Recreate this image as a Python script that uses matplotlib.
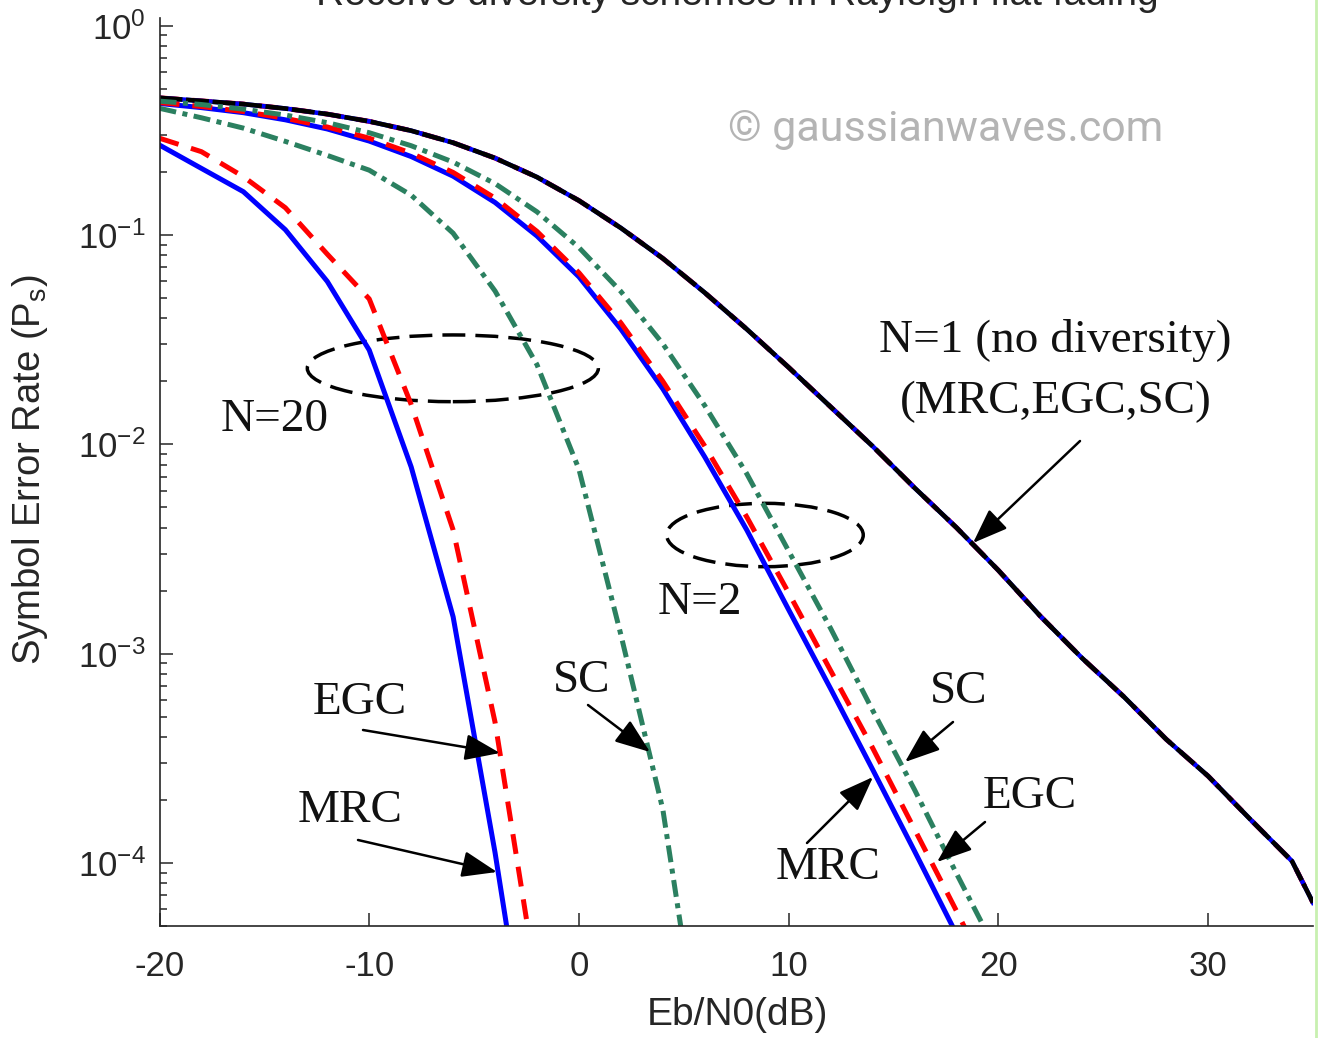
import matplotlib
matplotlib.use('Agg')
import matplotlib.pyplot as plt
from matplotlib.patches import Ellipse
from matplotlib.lines import Line2D
from matplotlib.ticker import LogLocator, NullLocator

# Eb/N0 grid (dB) and symbol error rates
snr_n1 = [-20, -18, -16, -14, -12, -10, -8, -6, -4, -2, 0, 2, 4, 6, 8, 10, 12, 14,
          16, 18, 20, 22, 24, 26, 28, 30, 32, 34, 35]
ser_n1 = [0.452, 0.437, 0.422, 0.402, 0.378, 0.349, 0.315, 0.276, 0.233, 0.189,
          0.146, 0.108, 0.0773, 0.053, 0.0355, 0.0233, 0.0151, 0.0098, 0.0062,
          0.0040, 0.0025, 0.00151, 0.00095, 0.00062, 0.00039, 0.00026, 0.000162,
          0.000102, 0.0000646]

snr_n2 = [-20, -18, -16, -14, -12, -10, -8, -6, -4, -2, 0, 2, 4, 6, 8, 10, 12, 14,
          16, 18, 20]
mrc_n2 = [0.425, 0.406, 0.384, 0.355, 0.321, 0.281, 0.237, 0.191, 0.143, 0.0989,
          0.0631, 0.0355, 0.0184, 0.0087, 0.0039, 0.00162, 0.00068, 0.00028,
          0.000114, 0.0000457, 0.0000186]
egc_n2 = [0.429, 0.411, 0.389, 0.361, 0.328, 0.290, 0.246, 0.199, 0.150, 0.104,
          0.0660, 0.0380, 0.0200, 0.0098, 0.0045, 0.00195, 0.00083, 0.000355,
          0.000145, 0.000059, 0.0000234]
sc_n2 = [0.436, 0.420, 0.399, 0.374, 0.344, 0.308, 0.267, 0.223, 0.176, 0.129,
         0.0871, 0.0537, 0.0302, 0.0153, 0.00724, 0.00309, 0.00132, 0.000537,
         0.000224, 0.0000891, 0.0000363]

snr_n20 = [-20, -18, -16, -14, -12, -10, -8, -6, -4, -2]
mrc_n20 = [0.269, 0.208, 0.161, 0.106, 0.060, 0.0282, 0.0078, 0.0015, 0.000112,
           0.000006]
egc_n20 = [0.29, 0.25, 0.19, 0.135, 0.081, 0.0495, 0.0155, 0.0039, 0.00047,
           0.000026]
snr_n20_sc = [-20, -18, -16, -14, -12, -10, -8, -6, -4, -2, 0, 2, 4, 6]
sc_n20 = [0.403, 0.363, 0.324, 0.28, 0.24, 0.204, 0.155, 0.102, 0.054, 0.024,
          0.0076, 0.00123, 0.00018, 0.0000089]

plt.rcParams['font.family'] = ['Liberation Sans', 'DejaVu Sans']
plt.rcParams['mathtext.fontset'] = 'custom'
plt.rcParams['mathtext.rm'] = 'Liberation Sans'
plt.rcParams['mathtext.it'] = 'Liberation Sans:italic'
plt.rcParams['mathtext.default'] = 'regular'
plt.rcParams['axes.unicode_minus'] = False

W, H = 1318, 1038


def fp(x, y):
    # pixel position (from top left) -> figure fraction
    return (x / W, 1 - y / H)


fig = plt.figure(figsize=(W / 100, H / 100), dpi=100)
ax = fig.add_axes([159.5 / W, 112 / H, 1153.5 / W, 908 / H])

blue = '#0000ff'
red = '#ff0000'
green = '#2b8060'
lw = 3.6
dash = (0, (4, 2.6))
dashdot = (0, (3.4, 1.3, 1.0, 1.3))

# N = 1 : all three schemes coincide
ax.plot(snr_n1, ser_n1, color=red, lw=lw, ls=dash)
ax.plot(snr_n1, ser_n1, color=blue, lw=3.3)
ax.plot(snr_n1, ser_n1, color='black', lw=3.3, ls=(0, (5, 0.8)))
# N = 2
ax.plot(snr_n2, mrc_n2, color=blue, lw=lw)
ax.plot(snr_n2, egc_n2, color=red, lw=lw, ls=dash)
ax.plot(snr_n2, sc_n2, color=green, lw=lw, ls=dashdot)
# N = 20
ax.plot(snr_n20, mrc_n20, color=blue, lw=lw)
ax.plot(snr_n20, egc_n20, color=red, lw=lw, ls=dash)
ax.plot(snr_n20_sc, sc_n20, color=green, lw=lw, ls=dashdot)

ax.set_yscale('log')
ax.set_xlim(-20, 35)
ax.set_ylim(5e-5, 1.088)
ax.set_xticks([-20, -10, 0, 10, 20, 30])
ax.yaxis.set_major_locator(LogLocator(base=10, numticks=10))
ax.yaxis.set_minor_locator(LogLocator(base=10, subs=range(2, 10), numticks=10))
ax.xaxis.set_minor_locator(NullLocator())

for s in ['top', 'right']:
    ax.spines[s].set_visible(False)
for s in ['left', 'bottom']:
    ax.spines[s].set_color('#262626')
    ax.spines[s].set_linewidth(1.2)
ax.tick_params(which='both', direction='in', color='#262626', width=1.1)
ax.tick_params(which='major', length=9.4, labelsize=25, labelcolor='#262626')
ax.tick_params(which='minor', length=5)
ax.tick_params(axis='x', pad=17)
ax.tick_params(axis='y', pad=10)

fig.text(*fp(737, 1015), 'Eb/N0(dB)', ha='center', va='center',
         fontsize=28, color='#262626')
fig.text(*fp(30, 470), 'Symbol Error Rate (P$_s$)', rotation=90,
         ha='center', va='center', fontsize=27.5, color='#262626')
# title sits mostly above the cropped top edge, as in the source screenshot
fig.text(737 / W, 1 - 5 / H, 'Receive diversity schemes in Rayleigh flat fading',
         ha='center', va='baseline', fontsize=28, color='#262626')

# watermark
fig.text(*fp(946, 130), '\u00a9 gaussianwaves.com', color='#b4b4b4', fontsize=31,
         family=['Roboto', 'DejaVu Sans'], ha='center', va='center')

# dashed ellipses grouping N=20 and N=2 curves
ax.add_patch(Ellipse((0.2543, 0.6142), 0.2523, 0.0735, transform=ax.transAxes,
                     fill=False, ec='black', lw=2.5, ls=(0, (6.6, 2.9))))
ax.add_patch(Ellipse((0.5249, 0.4306), 0.1704, 0.0698, transform=ax.transAxes,
                     fill=False, ec='black', lw=2.5, ls=(0, (6.6, 2.9))))

serif = ['Liberation Serif', 'DejaVu Serif']
labels = [
    ('N=20', 275, 420),
    ('N=2', 700, 603),
    ('N=1 (no diversity)', 1055, 340),
    ('(MRC,EGC,SC)', 1056, 402),
    ('EGC', 360, 703),
    ('MRC', 350, 811),
    ('SC', 582, 681),
    ('SC', 959, 692),
    ('EGC', 1030, 797),
    ('MRC', 828, 868),
]
for txt, x, y in labels:
    fig.text(*fp(x, y), txt, ha='center', va='center', fontsize=34, family=serif,
             color='#111111')

arrows = [
    ((1080, 441), (973, 543)),
    ((363, 730), (500, 753)),
    ((358, 840), (497, 872)),
    ((588, 705), (650, 752)),
    ((953, 722), (905, 762)),
    ((985, 822), (937, 862)),
    ((807, 843), (873, 777)),
]
for tail, tip in arrows:
    ax.annotate('', xy=fp(*tip), xycoords='figure fraction',
                xytext=fp(*tail), textcoords='figure fraction',
                arrowprops=dict(arrowstyle='-|>,head_length=1.2,head_width=0.45',
                                lw=1.8, color='black', mutation_scale=18,
                                shrinkA=0, shrinkB=0))

# thin light green border on the right edge of the screenshot
fig.add_artist(Line2D([1316 / W, 1316 / W], [0, 1], color='#c8f0b0', lw=2))

fig.savefig('out.png', dpi=100)
